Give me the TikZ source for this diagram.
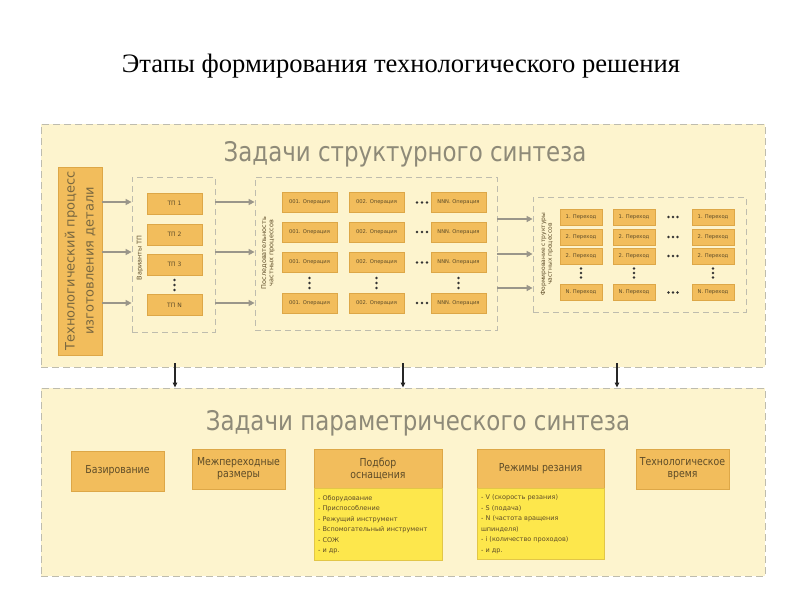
\documentclass[tikz,border=0pt]{standalone}
\usepackage{fontspec}
\setmainfont{Liberation Serif}
\newfontfamily\gostr{DejaVu Sans}
\newfontfamily\gost{DejaVu Sans}[FakeStretch=0.85]
\usetikzlibrary{arrows.meta}
\definecolor{panel}{HTML}{FDF4CE}
\definecolor{dashgray}{HTML}{BEBCAE}
\definecolor{orfill}{HTML}{F2BD5C}
\definecolor{ordraw}{HTML}{DDA747}
\definecolor{yfill}{HTML}{FDE74C}
\definecolor{ydraw}{HTML}{E2C647}
\definecolor{titlegray}{HTML}{8E8A78}
\definecolor{boxtext}{HTML}{5E4C28}
\definecolor{lbtext}{HTML}{7A6840}
\definecolor{arrgray}{HTML}{9A968A}
\begin{document}
\begin{tikzpicture}[x=1pt,y=-1pt,
  panelbox/.style={draw=dashgray, fill=panel, line width=0.9pt, dash pattern=on 7pt off 4pt},
  dbox/.style={draw=dashgray, line width=0.8pt, dash pattern=on 6pt off 4pt, inner sep=0pt},
  obox/.style={draw=ordraw, fill=orfill, line width=0.6pt, inner sep=0pt, text=boxtext},
  sbox/.style={obox, font=\gostr\fontsize{5.2}{6}\selectfont},
  bbox/.style={obox, font=\gost\fontsize{11}{12}\selectfont, align=center, minimum width=93, minimum height=40},
  hbox/.style={obox, font=\gost\fontsize{11}{12}\selectfont, align=center, minimum height=39},
  lbox/.style={draw=ydraw, fill=yfill, line width=0.6pt, text=boxtext, inner xsep=4pt, inner ysep=0pt, align=left, anchor=north, font=\gostr\fontsize{6.5}{10.5}\selectfont},
  sub/.style={font=\gost\fontsize{27}{30}\selectfont, text=titlegray, anchor=base},
  vlabel/.style={rotate=90, font=\gostr\fontsize{6.5}{7.2}\selectfont, text=boxtext, align=center, inner sep=0pt},
  arr/.style={draw=arrgray, line width=1.8pt, -{Triangle[length=6pt,width=6pt]}},
  varr/.style={draw=black!85, line width=1.2pt, -{Triangle[length=5pt,width=4.5pt]}},
  dotc/.style={fill=black!80}
]
\useasboundingbox (0,0) rectangle (800,600);
\fill[white] (0,0) rectangle (800,600);

% title
\node[anchor=base, font=\fontsize{26.6}{30}\selectfont] (title) at (401,72) {Этапы формирования технологического решения};

% panels
\node[panelbox, minimum width=724, minimum height=243] (top) at (403,245.5) {};
\node[panelbox, minimum width=724, minimum height=188] (bot) at (403,482) {};
\node[sub] (t1) at (405,161) {Задачи структурного синтеза};
\node[sub] (t2) at (418,430) {Задачи параметрического синтеза};

% left box
\node[obox, rotate=90, minimum width=188, minimum height=44, align=center, text=lbtext,
      font=\gostr\fontsize{13}{19}\selectfont] (lb) at (80,261) {Технологический процесс\\изготовления детали};

% variants of TP
\node[dbox, minimum width=83, minimum height=155] (vb) at (173.5,254.5) {};
\node[vlabel] (vbl) at (140,258) {Варианты ТП};
\node[sbox, minimum width=55, minimum height=21, font=\gostr\fontsize{6}{7}\selectfont] (tp1) at (174.5,203.5) {ТП 1};
\node[sbox, minimum width=55, minimum height=21, font=\gostr\fontsize{6}{7}\selectfont] (tp2) at (174.5,234.5) {ТП 2};
\node[sbox, minimum width=55, minimum height=21, font=\gostr\fontsize{6}{7}\selectfont] (tp3) at (174.5,264.5) {ТП 3};
\node[sbox, minimum width=55, minimum height=21, font=\gostr\fontsize{6}{7}\selectfont] (tpn) at (174.5,305) {ТП N};
\foreach \d in {-5,0,5} \fill[dotc] (174.5,285+\d) circle[radius=1.4pt];

% operations
\node[dbox, minimum width=242, minimum height=153] (ob) at (376,253.5) {};
\node[vlabel] (obl) at (268,253) {Последовательность\\частных процессов};
\foreach \r/\y in {1/202.5,2/232,3/262.5,4/303}{
  \node[sbox, minimum width=55, minimum height=20] (o\r a) at (309.5,\y) {001. Операция};
  \node[sbox, minimum width=55, minimum height=20] (o\r b) at (376.5,\y) {002. Операция};
  \node[sbox, minimum width=55, minimum height=20] (o\r c) at (458.5,\y) {NNN. Операция};
  \foreach \d in {-5,0,5} \fill[dotc] (422+\d,\y) circle[radius=1.4pt];
}
\foreach \x in {309.5,376.5,458.5}{
  \foreach \d in {-5,0,5} \fill[dotc] (\x,283+\d) circle[radius=1.4pt];
}

% transitions
\node[dbox, minimum width=213, minimum height=115] (trb) at (639.5,254.5) {};
\node[vlabel, font=\gostr\fontsize{6}{6.8}\selectfont] (trl) at (547,254) {Формирование структуры\\частных процессов};
\foreach \r/\y/\t in {1/217/1. Переход,2/237/2. Переход,3/256/2. Переход,4/292.5/N. Переход}{
  \node[sbox, minimum width=42, minimum height=16] (p\r a) at (581,\y) {\t};
  \node[sbox, minimum width=42, minimum height=16] (p\r b) at (634,\y) {\t};
  \node[sbox, minimum width=42, minimum height=16] (p\r c) at (713,\y) {\t};
  \foreach \d in {-4.5,0,4.5} \fill[dotc] (673+\d,\y) circle[radius=1.3pt];
}
\foreach \x in {581,634,713}{
  \foreach \d in {-4.5,0,4.5} \fill[dotc] (\x,273+\d) circle[radius=1.3pt];
}

% arrows
\coordinate (r1) at (0,202);
\coordinate (r2) at (0,252);
\coordinate (r3) at (0,303);
\coordinate (s1) at (0,219);
\coordinate (s2) at (0,254);
\coordinate (s3) at (0,288);
\foreach \r in {r1,r2,r3}{
  \draw[arr] (lb.south |- \r) -- (vb.west |- \r);
  \draw[arr] (vb.east |- \r) -- (ob.west |- \r);
}
\foreach \s in {s1,s2,s3}{
  \draw[arr] (ob.east |- \s) -- (trb.west |- \s);
}

% bottom boxes
\node[bbox] (bz) at (117.5,471) {Базирование};
\node[bbox] (mr) at (238.5,469) {Межпереходные\\размеры};
\node[hbox, minimum width=128] (po) at (378,468.5) {Подбор\\оснащения};
\node[lbox, minimum width=128, minimum height=72, text width=120] (pol) at (po.south) {- Оборудование\\- Приспособление\\- Режущий инструмент\\- Вспомогательный инструмент\\- СОЖ\\- и др.};
\node[hbox, minimum width=127] (rr) at (540.5,468.5) {Режимы резания};
\node[lbox, minimum width=127, minimum height=71, text width=119] (rrl) at (rr.south) {- V (скорость резания)\\- S (подача)\\- N (частота вращения\\шпинделя)\\- i (количество проходов)\\- и др.};
\node[bbox] (tv) at (682.5,469) {Технологическое\\время};

% vertical arrows
\coordinate (a1) at (175,0);
\coordinate (a2) at (403,0);
\coordinate (a3) at (617,0);
\foreach \a in {a1,a2,a3}{
  \draw[varr] ([yshift=4pt]top.south -| \a) -- (bot.north -| \a);
}
\end{tikzpicture}
\end{document}
